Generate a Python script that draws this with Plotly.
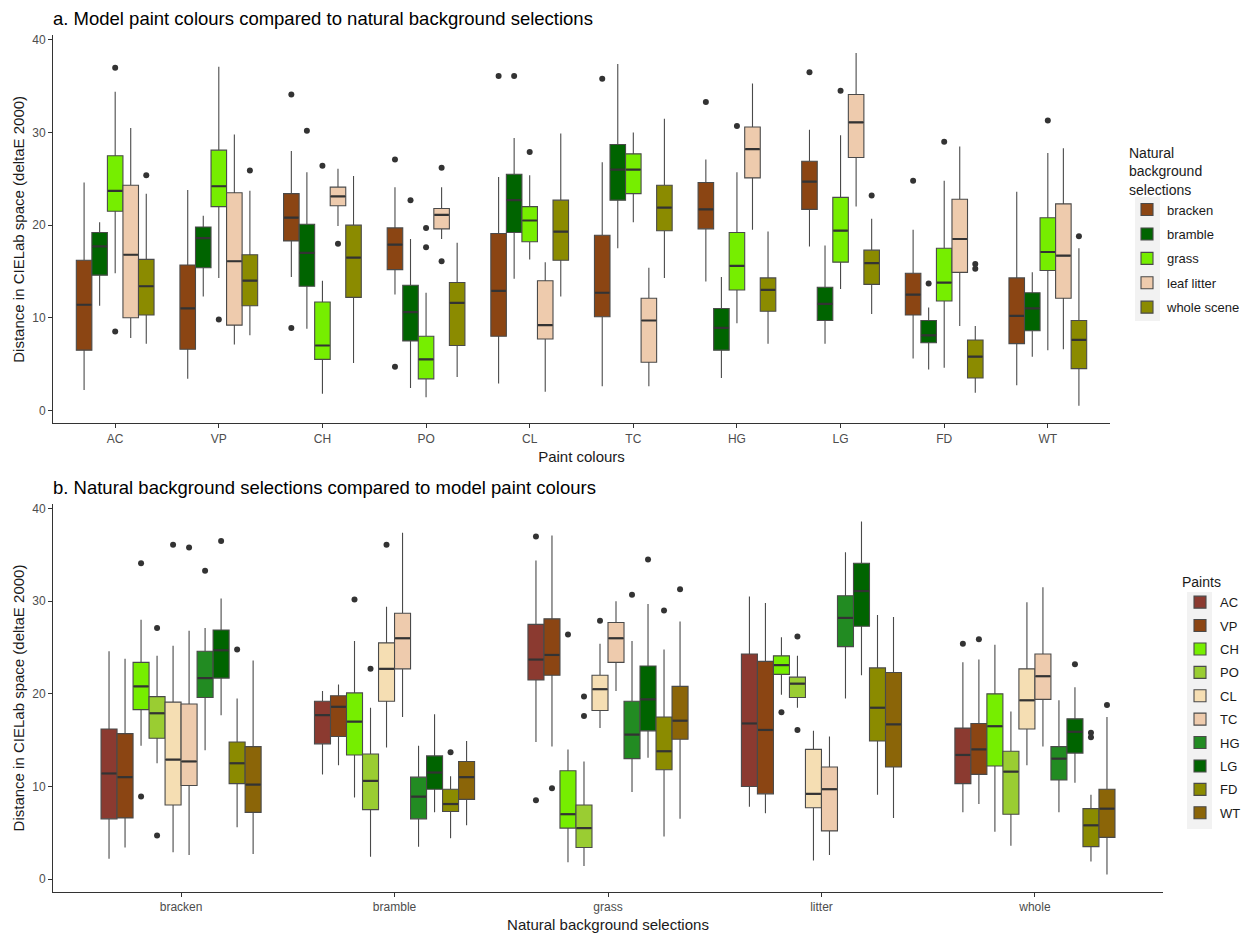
import plotly.graph_objects as go

# ---------------- data ----------------
paints = ["AC", "VP", "CH", "PO", "CL", "TC", "HG", "LG", "FD", "WT"]
backgrounds = ["bracken", "bramble", "grass", "leaf litter", "whole scene"]
background_ticks = ["bracken", "bramble", "grass", "litter", "whole"]

# one row per paint (AC..WT): [lower whisker, Q1, median, Q3, upper whisker]
bracken_stats = [
    [2.2, 6.5, 11.4, 16.2, 24.6], [3.4, 6.6, 11.0, 15.7, 23.8], [14.4, 18.3, 20.8, 23.4, 28.0],
    [12.5, 15.2, 17.9, 19.7, 24.1], [2.9, 8.0, 12.9, 19.1, 25.2], [2.6, 10.1, 12.7, 18.9, 26.8],
    [13.9, 19.6, 21.7, 24.6, 27.1], [17.7, 21.7, 24.7, 26.9, 30.3], [5.6, 10.3, 12.5, 14.8, 19.5],
    [2.7, 7.2, 10.2, 14.3, 23.6],
]
bramble_stats = [
    [11.3, 14.6, 17.7, 19.2, 20.3], [12.3, 15.4, 18.6, 19.8, 21.0], [8.8, 13.4, 17.0, 20.1, 25.7],
    [2.4, 7.5, 10.6, 13.5, 18.5], [14.2, 19.2, 22.7, 25.5, 29.4], [17.5, 22.7, 26.0, 28.7, 37.4],
    [3.5, 6.5, 8.9, 11.0, 14.4], [7.2, 9.7, 11.5, 13.3, 17.8], [4.4, 7.3, 8.1, 9.7, 11.1],
    [5.8, 8.6, 11.0, 12.7, 14.9],
]
grass_stats = [
    [14.8, 21.5, 23.7, 27.5, 34.4], [14.3, 22.0, 24.2, 28.1, 37.1], [1.8, 5.5, 7.0, 11.7, 14.0],
    [1.4, 3.4, 5.5, 8.0, 12.7], [16.3, 18.2, 20.5, 22.0, 25.4], [20.3, 23.4, 26.0, 27.7, 30.0],
    [9.4, 13.0, 15.6, 19.2, 25.7], [13.1, 16.0, 19.4, 23.0, 29.7], [4.6, 11.8, 13.8, 17.5, 24.8],
    [6.5, 15.1, 17.1, 20.8, 27.8],
]
litter_stats = [
    [7.8, 10.0, 16.8, 24.3, 30.5], [7.1, 9.2, 16.1, 23.5, 29.8], [19.9, 22.1, 23.1, 24.1, 26.1],
    [18.5, 19.6, 21.1, 21.8, 24.1], [2.0, 7.7, 9.2, 14.0, 16.0], [2.6, 5.2, 9.7, 12.1, 15.4],
    [19.5, 25.1, 28.2, 30.6, 35.3], [22.0, 27.3, 31.1, 34.1, 38.6], [9.1, 14.9, 18.5, 22.8, 28.5],
    [6.6, 12.1, 16.7, 22.3, 28.3],
]
whole_stats = [
    [7.2, 10.3, 13.4, 16.3, 23.4], [8.1, 11.3, 14.0, 16.8, 23.7], [5.1, 12.2, 16.5, 20.0, 25.3],
    [3.6, 7.0, 11.6, 13.8, 18.1], [12.3, 16.2, 19.3, 22.7, 29.9], [14.3, 19.4, 21.9, 24.3, 31.5],
    [7.2, 10.7, 13.0, 14.3, 19.3], [10.4, 13.6, 15.9, 17.3, 20.7], [1.9, 3.5, 5.8, 7.6, 9.1],
    [0.5, 4.5, 7.6, 9.7, 17.5],
]

# outliers, one list per paint (AC..WT)
bracken_out = [[], [], [34.1, 8.9], [27.1, 4.7], [36.1], [35.8], [33.3], [36.5], [24.8], []]
bramble_out = [[], [], [30.2], [22.7], [36.1], [], [], [], [13.7], []]
grass_out = [[37.0, 8.5], [9.8], [26.4], [19.7, 17.6], [27.9], [], [30.7], [34.5], [29.0], [31.3]]
litter_out = [[], [], [18.0], [26.2, 16.1], [], [], [], [], [], []]
whole_out = [[25.4], [25.9], [], [], [], [], [], [23.2], [15.8, 15.3], [18.8]]

# ---------------- styling ----------------
bg_colors = ["#8B4513", "#006400", "#76EE00", "#EECBAD", "#8B8B00"]
paint_colors = ["#8B3A30", "#8B4513", "#76EE00", "#9ACD32", "#F5DEB3",
                "#EECBAD", "#228B22", "#006400", "#8B8B00", "#8B6508"]
LINE = "#333333"
BOXLINE = "#4a4a4a"
FONT = "Liberation Sans, Arial, sans-serif"

stats_by_bg = [bracken_stats, bramble_stats, grass_stats, litter_stats, whole_stats]
out_by_bg = [bracken_out, bramble_out, grass_out, litter_out, whole_out]

fig = go.Figure()


def add_group(xs, st, outs, width, color, name, legend, group, xa, ya):
    fig.add_trace(go.Box(
        x=xs, lowerfence=[s[0] for s in st], q1=[s[1] for s in st], median=[s[2] for s in st],
        q3=[s[3] for s in st], upperfence=[s[4] for s in st],
        width=width, whiskerwidth=0, fillcolor=color, line=dict(color=BOXLINE, width=1.1),
        name=name, legend=legend, legendgroup=group, xaxis=xa, yaxis=ya, hoverinfo="skip"))
    # thicker median bar (as in ggplot)
    mx, my = [], []
    for x, s in zip(xs, st):
        mx += [x - width / 2 * 0.93, x + width / 2 * 0.93, None]
        my += [s[2], s[2], None]
    fig.add_trace(go.Scatter(x=mx, y=my, mode="lines", line=dict(color=LINE, width=2.2),
                             showlegend=False, xaxis=xa, yaxis=ya, hoverinfo="skip"))
    ox, oy = [], []
    for x, o in zip(xs, outs):
        for v in o:
            ox.append(x); oy.append(v)
    fig.add_trace(go.Scatter(x=ox, y=oy, mode="markers", marker=dict(color=LINE, size=6),
                             showlegend=False, xaxis=xa, yaxis=ya, hoverinfo="skip"))


# ---------------- panel a: paints on x, dodged by background ----------------
dodge_a = 0.75 / len(backgrounds)
for bi, bg in enumerate(backgrounds):
    xs = [pi + 1 + (bi - (len(backgrounds) - 1) / 2) * dodge_a for pi in range(len(paints))]
    add_group(xs, stats_by_bg[bi], out_by_bg[bi], dodge_a, bg_colors[bi], bg,
              "legend", "a" + bg, "x", "y")

# ---------------- panel b: backgrounds on x, dodged by paint ----------------
dodge_b = 0.75 / len(paints)
for pi, pn in enumerate(paints):
    xs = [bi + 1 + (pi - (len(paints) - 1) / 2) * dodge_b for bi in range(len(backgrounds))]
    st = [stats_by_bg[bi][pi] for bi in range(len(backgrounds))]
    outs = [out_by_bg[bi][pi] for bi in range(len(backgrounds))]
    add_group(xs, st, outs, dodge_b, paint_colors[pi], pn, "legend2", "b" + pn, "x2", "y2")

W, H = 1247, 934
def px(x):
    return x / W
def py(y):
    return 1 - y / H

common_axis = dict(showline=True, linecolor=LINE, linewidth=1, ticks="outside", ticklen=4,
                   tickcolor=LINE, showgrid=False, zeroline=False,
                   tickfont=dict(family=FONT, size=12, color="#4D4D4D"))
ytitle = "Distance in CIELab space (deltaE 2000)"
tfont = dict(size=15, color="#1a1a1a")

# light grey legend-key backgrounds (ggplot style)
key_bg = [
    dict(type="rect", xref="paper", yref="paper", x0=px(1135), x1=px(1160), y0=py(321), y1=py(197),
         fillcolor="#F2F2F2", line=dict(width=0), layer="below"),
    dict(type="rect", xref="paper", yref="paper", x0=px(1187), x1=px(1212), y0=py(829), y1=py(592),
         fillcolor="#F2F2F2", line=dict(width=0), layer="below"),
]

fig.update_layout(
    width=W, height=H, margin=dict(l=0, r=0, t=0, b=0),
    plot_bgcolor="white", paper_bgcolor="white",
    font=dict(family=FONT, size=13, color="#1a1a1a"),
    boxmode="overlay", showlegend=True, shapes=key_bg,
    xaxis=dict(domain=[px(53), px(1110)], anchor="y", range=[0.4, 10.6],
               tickvals=list(range(1, len(paints) + 1)), ticktext=paints,
               title=dict(text="Paint colours", font=tfont, standoff=6),
               automargin=False, **common_axis),
    yaxis=dict(domain=[py(423.3), py(35.3)], anchor="x", range=[-1.4, 40.5],
               tickvals=[0, 10, 20, 30, 40],
               title=dict(text=ytitle, font=tfont, standoff=3),
               automargin=False, **common_axis),
    xaxis2=dict(domain=[px(53), px(1163)], anchor="y2", range=[0.4, 5.6],
                tickvals=list(range(1, len(background_ticks) + 1)), ticktext=background_ticks,
                title=dict(text="Natural background selections", font=tfont, standoff=6),
                automargin=False, **common_axis),
    yaxis2=dict(domain=[py(892), py(504)], anchor="x2", range=[-1.4, 40.5],
                tickvals=[0, 10, 20, 30, 40],
                title=dict(text=ytitle, font=tfont, standoff=3),
                automargin=False, **common_axis),
    legend=dict(x=px(1127), xanchor="left", y=py(140), yanchor="top",
                title=dict(text="Natural<br>background<br>selections", font=dict(size=14)),
                font=dict(size=13), tracegroupgap=4.5, bgcolor="rgba(0,0,0,0)"),
    legend2=dict(x=px(1180), xanchor="left", y=py(569), yanchor="top",
                 title=dict(text="Paints", font=dict(size=14)),
                 font=dict(size=13), tracegroupgap=3.5, bgcolor="rgba(0,0,0,0)"),
    annotations=[
        dict(text="a. Model paint colours compared to natural background selections",
             xref="paper", yref="paper", x=px(51), y=py(18), xanchor="left", yanchor="middle",
             showarrow=False, font=dict(size=18.5, color="black")),
        dict(text="b. Natural background selections compared to model paint colours",
             xref="paper", yref="paper", x=px(51), y=py(488), xanchor="left", yanchor="middle",
             showarrow=False, font=dict(size=18.5, color="black")),
    ],
)

fig.write_html("out.html", config={"displayModeBar": False},
               post_script="document.body.style.margin='0px';")
